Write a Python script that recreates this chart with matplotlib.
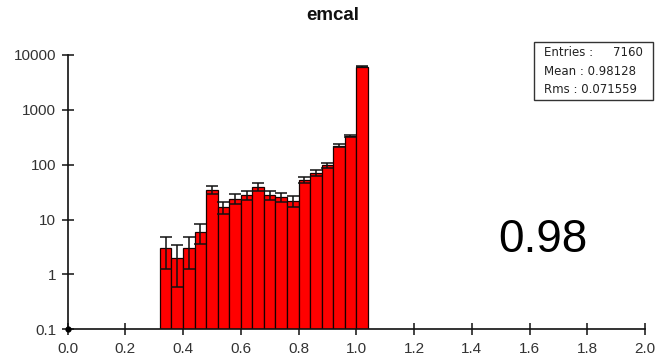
import numpy as np
import matplotlib
matplotlib.use("Agg")
import matplotlib.pyplot as plt
from matplotlib.patches import Rectangle
from matplotlib.ticker import FixedLocator, FixedFormatter, NullLocator

plt.rcParams['font.family'] = ['Liberation Sans', 'DejaVu Sans']

# Histogram of emcal values: 0.04-wide bins from 0.32 to 1.04
bin_edges = [0.32, 0.36, 0.40, 0.44, 0.48, 0.52, 0.56, 0.60, 0.64, 0.68,
             0.72, 0.76, 0.80, 0.84, 0.88, 0.92, 0.96, 1.00, 1.04]
counts = [3, 2, 3, 6, 35, 17, 24, 28, 40, 28, 26, 22, 53, 71, 97, 221, 332, 6152]

x_ticks = [0.0, 0.2, 0.4, 0.6, 0.8, 1.0, 1.2, 1.4, 1.6, 1.8, 2.0]
x_tick_labels = ["0.0", "0.2", "0.4", "0.6", "0.8", "1.0", "1.2", "1.4", "1.6", "1.8", "2.0"]
y_ticks = [0.1, 1, 10, 100, 1000, 10000]
y_tick_labels = ["0.1", "1", "10", "100", "1000", "10000"]

title = "emcal"
stats_entries = "7160"
stats_mean = "0.98128"
stats_rms = "0.071559"
big_label = "0.98"

edges = np.array(bin_edges)
vals = np.array(counts, dtype=float)
centers = 0.5 * (edges[:-1] + edges[1:])
widths = np.diff(edges)
errs = np.sqrt(vals)

fig = plt.figure(figsize=(6.55, 3.6), dpi=100)
ax = fig.add_axes([67.5 / 655, 1 - 329.3 / 360, (645 - 67.5) / 655, (329.3 - 55) / 360])

ax.bar(edges[:-1], vals, width=widths, align='edge', color='#ff0000',
       edgecolor='#1a0000', linewidth=0.9, zorder=2)
ax.errorbar(centers, vals, yerr=[np.minimum(errs, vals - 0.11), errs], fmt='none',
            ecolor='#111111', elinewidth=1.1, capsize=4, capthick=1.1, zorder=3)

ax.set_yscale('log')
ax.set_xlim(0.0, 2.0)
ax.set_ylim(0.1, 10000)

ax.xaxis.set_major_locator(FixedLocator(x_ticks))
ax.xaxis.set_major_formatter(FixedFormatter(x_tick_labels))
ax.yaxis.set_major_locator(FixedLocator(y_ticks))
ax.yaxis.set_major_formatter(FixedFormatter(y_tick_labels))
ax.yaxis.set_minor_locator(NullLocator())
ax.xaxis.set_minor_locator(NullLocator())

for side in ('top', 'right'):
    ax.spines[side].set_visible(False)
for side in ('left', 'bottom'):
    ax.spines[side].set_linewidth(1.2)
    ax.spines[side].set_color('#111111')

ax.tick_params(axis='x', direction='inout', length=9, width=1.1, labelsize=11,
               pad=4.5, colors='#111111', labelcolor='#333333')
ax.tick_params(axis='y', direction='inout', length=8.5, width=1.1, labelsize=11,
               pad=4, colors='#111111', labelcolor='#333333')

ax.plot([0.0], [0.1], 'o', color='black', ms=3.5, clip_on=False, zorder=5)

fig.text(333 / 655, 1 - 16 / 360, title, ha='center', va='center',
         fontsize=13.5, fontweight='bold', color='#111111')

# Statistics box
fig.patches.append(Rectangle((534 / 655, 1 - 99.5 / 360), (653 - 534) / 655, (99.5 - 42) / 360,
                             transform=fig.transFigure, fill=False,
                             edgecolor='#333333', linewidth=1.0))
stat_font = dict(fontsize=8.5, family=['DejaVu Sans'], color='#222222', va='center')
fig.text(544 / 655, 1 - 53 / 360, "Entries :", ha='left', **stat_font)
fig.text(643 / 655, 1 - 53 / 360, stats_entries, ha='right', **stat_font)
fig.text(544 / 655, 1 - 71.3 / 360, "Mean : " + stats_mean, ha='left', **stat_font)
fig.text(544 / 655, 1 - 89.7 / 360, "Rms : " + stats_rms, ha='left', **stat_font)

fig.text(542.5 / 655, 1 - 240 / 360, big_label, ha='center', va='center', fontsize=33)

fig.savefig("out.png", dpi=100)
